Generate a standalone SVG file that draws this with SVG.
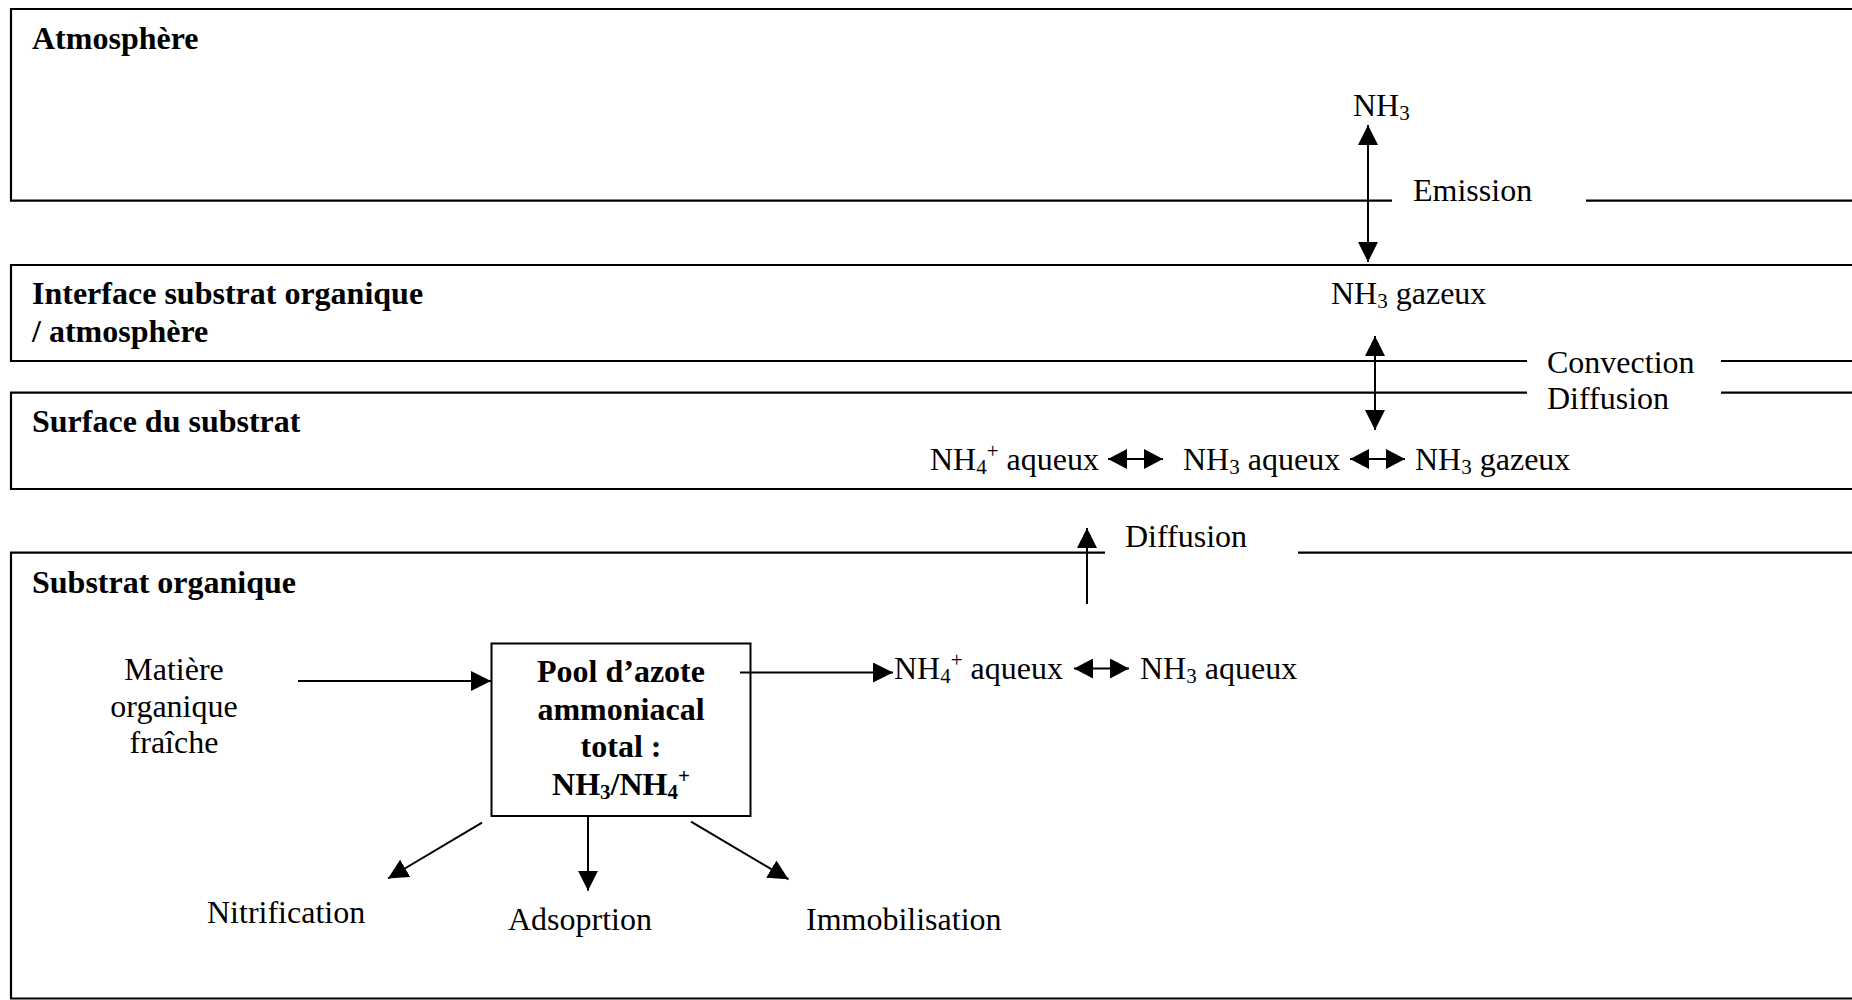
<svg xmlns="http://www.w3.org/2000/svg" width="1852" height="1000" viewBox="0 0 1852 1000">
<style>
.t{font-family:"Liberation Serif","Times New Roman",serif;font-size:32px;fill:#000}
.b{font-weight:bold}
.sub{font-size:21px}
.frame{fill:none;stroke:#000;stroke-width:2.2}
.c{fill:none;stroke:#000;stroke-width:2}
</style>
<defs>
<marker id="ah" viewBox="0 0 20 20" refX="20" refY="10" markerWidth="20" markerHeight="20" markerUnits="userSpaceOnUse" orient="auto-start-reverse"><path d="M0,0 L20,10 L0,20 z" fill="#000"/></marker>
<marker id="ahs" viewBox="0 0 19 20" refX="19" refY="10" markerWidth="19" markerHeight="20" markerUnits="userSpaceOnUse" orient="auto-start-reverse"><path d="M0,0 L19,10 L0,20 z" fill="#000"/></marker>
</defs>
<rect width="1852" height="1000" fill="#fff"/>

<g id="atmosphere">
<path class="frame" d="M1852,9 H11 V200.7 H1392 M1586,200.7 H1852"/>
<text class="t b" x="32" y="49">Atmosphère</text>
</g>

<g id="interface">
<path class="frame" d="M1852,265 H11 V361 H1527 M1721,361 H1852"/>
<text class="t b" x="32" y="304">Interface substrat organique</text>
<text class="t b" x="32" y="342">/ atmosphère</text>
</g>

<g id="surface">
<path class="frame" d="M1527,392.7 H11 V489 H1852 M1852,392.7 H1721"/>
<text class="t b" x="32" y="432">Surface du substrat</text>
</g>

<g id="substrat">
<path class="frame" d="M1105,552.7 H11 V998.5 H1852 M1852,552.7 H1298"/>
<text class="t b" x="32" y="593">Substrat organique</text>
</g>

<g id="nh3-atm"><text class="t" x="1353" y="116">NH<tspan class="sub" dy="4">3</tspan></text></g>
<g id="emission-label"><text class="t" x="1413" y="201">Emission</text></g>
<g id="nh3-gaz-interface"><text class="t" x="1331" y="304">NH<tspan class="sub" dy="4">3</tspan><tspan dy="-4"> gazeux</tspan></text></g>
<g id="convection-label"><text class="t" x="1547" y="373">Convection</text></g>
<g id="diffusion-label-1"><text class="t" x="1547" y="409">Diffusion</text></g>

<g id="nh4-aq-surface"><text class="t" x="930" y="470">NH<tspan class="sub" dy="4">4</tspan><tspan class="sub" dy="-16">+</tspan><tspan dy="12"> aqueux</tspan></text></g>
<g id="nh3-aq-surface"><text class="t" x="1183" y="470">NH<tspan class="sub" dy="4">3</tspan><tspan dy="-4"> aqueux</tspan></text></g>
<g id="nh3-gaz-surface"><text class="t" x="1415" y="470">NH<tspan class="sub" dy="4">3</tspan><tspan dy="-4"> gazeux</tspan></text></g>

<g id="diffusion-label-2"><text class="t" x="1125" y="547">Diffusion</text></g>

<g id="matiere">
<text class="t" x="174" y="680" text-anchor="middle">Matière</text>
<text class="t" x="174" y="717" text-anchor="middle">organique</text>
<text class="t" x="174" y="753" text-anchor="middle">fraîche</text>
</g>

<g id="pool">
<rect x="491.5" y="643.5" width="259" height="172.5" fill="none" stroke="#000" stroke-width="2"/>
<text class="t b" x="621" y="682" text-anchor="middle">Pool d’azote</text>
<text class="t b" x="621" y="720" text-anchor="middle">ammoniacal</text>
<text class="t b" x="621" y="757" text-anchor="middle">total :</text>
<text class="t b" x="621" y="795" text-anchor="middle">NH<tspan class="sub" dy="4">3</tspan><tspan dy="-4">/NH</tspan><tspan class="sub" dy="4">4</tspan><tspan class="sub" dy="-16">+</tspan></text>
</g>

<g id="nh4-aq-substrat"><text class="t" x="894" y="679">NH<tspan class="sub" dy="4">4</tspan><tspan class="sub" dy="-16">+</tspan><tspan dy="12"> aqueux</tspan></text></g>
<g id="nh3-aq-substrat"><text class="t" x="1140" y="679">NH<tspan class="sub" dy="4">3</tspan><tspan dy="-4"> aqueux</tspan></text></g>

<g id="nitrification"><text class="t" x="207" y="923">Nitrification</text></g>
<g id="adsorption"><text class="t" x="508" y="930">Adsoprtion</text></g>
<g id="immobilisation"><text class="t" x="806" y="930">Immobilisation</text></g>

<g id="connectors">
<line class="c" x1="1368" y1="125" x2="1368" y2="262" marker-start="url(#ah)" marker-end="url(#ah)"/>
<line class="c" x1="1375" y1="336" x2="1375" y2="430" marker-start="url(#ah)" marker-end="url(#ah)"/>
<line class="c" x1="1108" y1="459" x2="1163" y2="459" marker-start="url(#ahs)" marker-end="url(#ahs)"/>
<line class="c" x1="1350" y1="459" x2="1405" y2="459" marker-start="url(#ahs)" marker-end="url(#ahs)"/>
<line class="c" x1="1087" y1="604" x2="1087" y2="528" marker-end="url(#ah)"/>
<line class="c" x1="298" y1="681" x2="491" y2="681" marker-end="url(#ah)"/>
<line class="c" x1="740" y1="672.5" x2="893" y2="672.5" marker-end="url(#ah)"/>
<line class="c" x1="1074" y1="668.5" x2="1129" y2="668.5" marker-start="url(#ahs)" marker-end="url(#ahs)"/>
<line class="c" x1="482" y1="822.7" x2="388" y2="878.5" marker-end="url(#ah)"/>
<line class="c" x1="588" y1="816.5" x2="588" y2="890.7" marker-end="url(#ah)"/>
<line class="c" x1="691" y1="821.7" x2="788.5" y2="879.3" marker-end="url(#ah)"/>
</g>
</svg>
